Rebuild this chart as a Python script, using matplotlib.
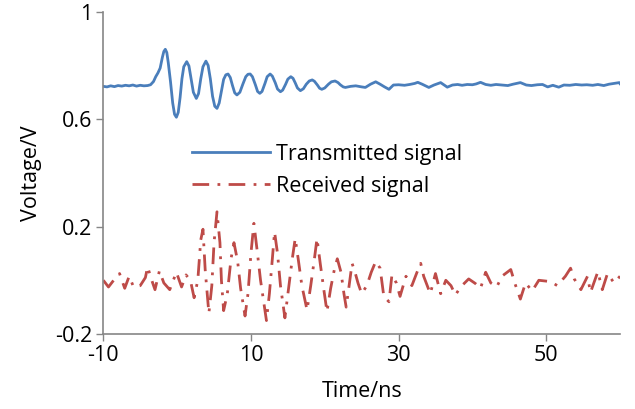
import matplotlib
matplotlib.use("Agg")
import matplotlib.pyplot as plt

# Transmitted signal (ns, V)
t_tx = [-10, -9.5, -9, -8.5, -8, -7.5, -7, -6.5, -6, -5.5, -5, -4.5, -4, -3.6, -3.2, -2.9, -2.6, -2.3,
        -2.0, -1.8, -1.6, -1.4, -1.2, -0.9, -0.6, -0.35, -0.1, 0.15, 0.4, 0.65, 0.9, 1.3, 1.6, 1.9, 2.2,
        2.6, 2.9, 3.2, 3.5, 3.9, 4.2, 4.5, 4.8, 5.1, 5.4, 5.7, 6.0, 6.3, 6.6, 6.9, 7.2, 7.5, 7.8, 8.1,
        8.5, 8.9, 9.3, 9.6, 9.9, 10.2, 10.6, 10.9, 11.2, 11.5, 11.9, 12.2, 12.6, 12.9, 13.3, 13.6, 14.0,
        14.3, 14.7, 15.0, 15.4, 15.7, 16.0, 16.3, 16.7, 17.1, 17.5, 17.9, 18.3, 18.6, 19.0, 19.3, 19.6,
        20.0, 20.5, 20.9, 21.4, 21.8, 22.1, 22.5, 22.8, 23.5, 24.2, 25.0, 25.5, 26.2, 26.9, 27.5, 28.1,
        28.7, 29.3, 30.0, 30.8, 31.5, 32.2, 32.6, 33.2, 34.1, 34.8, 35.7, 36.6, 37.3, 38.0, 38.6, 39.3,
        40.0, 40.5, 41.1, 41.8, 42.5, 43.2, 44.0, 44.8, 45.5, 46.5, 47.3, 48.0, 48.8, 49.5, 50.2, 50.9,
        51.7, 52.4, 53.2, 54.0, 54.8, 55.5, 56.3, 57.0, 57.8, 58.5, 59.2, 59.9, 60.0]
v_tx = [0.722, 0.720, 0.724, 0.721, 0.725, 0.723, 0.726, 0.724, 0.727, 0.723, 0.726, 0.724, 0.725, 0.728,
        0.740, 0.758, 0.772, 0.790, 0.830, 0.852, 0.860, 0.848, 0.810, 0.740, 0.660, 0.618, 0.607, 0.625,
        0.680, 0.750, 0.795, 0.814, 0.798, 0.750, 0.700, 0.677, 0.695, 0.750, 0.795, 0.816, 0.800, 0.750,
        0.685, 0.648, 0.640, 0.660, 0.705, 0.748, 0.765, 0.768, 0.755, 0.725, 0.698, 0.690, 0.700, 0.730,
        0.758, 0.767, 0.768, 0.758, 0.728, 0.703, 0.696, 0.703, 0.733, 0.758, 0.768, 0.760, 0.735, 0.712,
        0.702, 0.708, 0.730, 0.749, 0.758, 0.752, 0.735, 0.716, 0.706, 0.713, 0.730, 0.742, 0.746, 0.741,
        0.727, 0.715, 0.711, 0.716, 0.730, 0.739, 0.742, 0.736, 0.728, 0.720, 0.718, 0.722, 0.724, 0.720,
        0.718, 0.730, 0.739, 0.730, 0.720, 0.711, 0.727, 0.728, 0.726, 0.729, 0.733, 0.737, 0.730, 0.718,
        0.727, 0.736, 0.719, 0.727, 0.729, 0.726, 0.729, 0.728, 0.731, 0.737, 0.729, 0.726, 0.729, 0.727,
        0.725, 0.730, 0.736, 0.727, 0.725, 0.728, 0.729, 0.720, 0.726, 0.719, 0.727, 0.726, 0.729, 0.727,
        0.728, 0.726, 0.729, 0.725, 0.730, 0.733, 0.736, 0.732]

# Received signal (ns, V)
t_rx = [-10, -9.3, -8.6, -7.8, -7.1, -6.5, -5.9, -5.0, -4.3, -4.0, -3.5, -3.0, -2.4, -1.8, -1.0, -0.1,
        0.6, 1.2, 1.8, 2.3, 2.8, 3.2, 3.5, 3.8, 4.3, 4.7, 5.0, 5.4, 5.8, 6.0, 6.3, 6.8, 7.3, 7.7, 8.2,
        8.6, 9.2, 9.6, 10.0, 10.4, 10.8, 11.3, 12.1, 12.5, 12.9, 13.2, 13.6, 14.0, 14.6, 15.1, 15.6,
        16.0, 16.4, 16.9, 17.6, 18.1, 18.6, 18.95, 19.4, 19.9, 20.3, 20.8, 21.3, 21.7, 22.2, 22.6, 22.9,
        23.3, 23.7, 24.1, 24.5, 25.0, 25.7, 26.3, 26.9, 27.5, 28.0, 28.7, 29.1, 29.7, 30.2, 31.0, 31.8,
        32.5, 33.0, 33.4, 34.3, 35.0, 35.7, 36.4, 37.1, 37.7, 38.4, 39.5, 40.4, 41.1, 41.8, 42.5, 43.3,
        44.0, 45.2, 45.8, 46.5, 47.2, 48.1, 49.0, 50.6, 51.5, 52.6, 53.3, 53.8, 54.7, 55.6, 56.0, 57.0,
        57.6, 58.3, 59.2, 60.0]
v_rx = [0.0, -0.025, 0.0, 0.025, -0.03, 0.015, -0.025, -0.02, 0.01, 0.05, 0.005, -0.035, 0.035, -0.01,
        -0.035, 0.03, -0.025, 0.02, 0.0, -0.065, 0.0, 0.15, 0.19, 0.04, -0.123, -0.02, 0.14, 0.255, 0.14,
        0.0, -0.113, -0.05, 0.08, 0.14, 0.07, -0.03, -0.133, -0.05, 0.10, 0.212, 0.12, 0.0, -0.15, -0.05,
        0.08, 0.18, 0.10, -0.02, -0.14, -0.03, 0.08, 0.156, 0.08, -0.02, -0.111, -0.02, 0.08, 0.156, 0.06,
        -0.04, -0.117, -0.03, 0.04, 0.08, 0.03, -0.05, -0.10, -0.02, 0.063, 0.03, -0.01, -0.05, -0.02,
        0.03, 0.07, 0.045, -0.06, -0.08, 0.02, -0.01, -0.06, 0.015, -0.02, 0.03, 0.063, 0.015, -0.05,
        0.025, -0.05, 0.0, -0.02, -0.055, -0.025, 0.005, -0.012, -0.03, 0.03, -0.01, -0.025, 0.015, 0.04,
        -0.015, -0.07, -0.01, -0.04, 0.0, -0.005, -0.02, 0.015, 0.045, 0.005, -0.035, 0.015, -0.045,
        0.032, -0.035, 0.025, -0.01, 0.015]

x_ticks = [-10, 10, 30, 50]
y_ticks = [-0.2, 0.2, 0.6, 1.0]
y_tick_labels = ["-0.2", "0.2", "0.6", "1"]

plt.rcParams["font.family"] = ["Open Sans", "DejaVu Sans"]
plt.rcParams["axes.unicode_minus"] = False

fig = plt.figure(figsize=(6.35, 4.09), dpi=100)
ax = fig.add_axes([0.1627, 0.1834, 0.8137, 0.788])

ax.plot(t_tx, v_tx, color="#4A7EBB", linewidth=2.0, label="Transmitted signal")
ax.plot(t_rx, v_rx, color="#BE4B48", linewidth=2.0, linestyle=(0, (6, 3, 1, 3)), label="Received signal")

ax.set_xlim(-10, 60)
ax.set_ylim(-0.2, 1.0)
ax.set_xticks(x_ticks)
ax.set_yticks(y_ticks)
ax.set_yticklabels(y_tick_labels)
ax.tick_params(axis="both", direction="out", length=5, width=1, color="#868686", labelsize=15.5, pad=3)
for side in ("top", "right"):
    ax.spines[side].set_visible(False)
for side in ("left", "bottom"):
    ax.spines[side].set_color("#868686")
    ax.spines[side].set_linewidth(1.2)

ax.set_xlabel("Time/ns", fontsize=15.5, labelpad=11)
ax.set_ylabel("Voltage/V", fontsize=15.5, labelpad=9)

ax.legend(loc="upper left", bbox_to_anchor=(0.172, 0.59), frameon=False, fontsize=15.5,
          handlelength=3.6, handletextpad=0.3, labelspacing=0.5, borderaxespad=0, borderpad=0)

fig.savefig("out.png", dpi=100)
